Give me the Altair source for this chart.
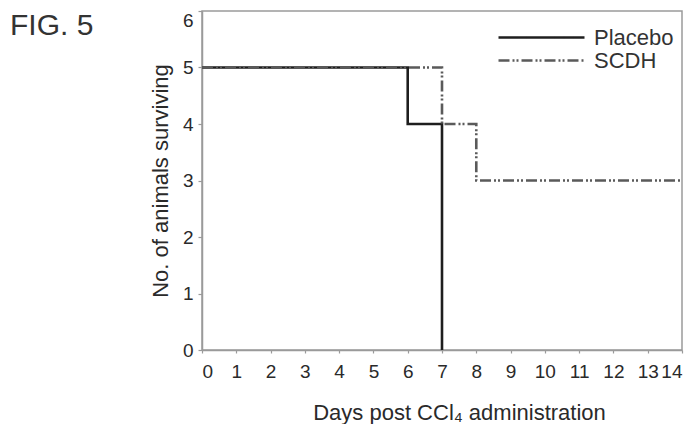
import altair as alt
import pandas as pd

# Survival step data
placebo_days = [0, 6, 7]
placebo_alive = [5, 4, 0]
scdh_days = [0, 7, 8, 14]
scdh_alive = [5, 4, 3, 3]

groups = ["Placebo", "SCDH"]
x_ticks = list(range(0, 15))
y_ticks = list(range(0, 7))

rows = []
for d, a in zip(placebo_days, placebo_alive):
    rows.append({"group": "Placebo", "day": d, "alive": a})
for d, a in zip(scdh_days, scdh_alive):
    rows.append({"group": "SCDH", "day": d, "alive": a})
df = pd.DataFrame(rows)

FONT = "Liberation Sans"
AXIS_GRAY = "#9a9a9a"
TOP = 3

lines = alt.Chart(df).mark_line(interpolate="step-after", strokeWidth=2.6).encode(
    x=alt.X("day:Q",
            scale=alt.Scale(domain=[0, 14], nice=False, zero=False),
            axis=alt.Axis(values=x_ticks, title="Days post CCl\u2084 administration",
                          grid=False, tickSize=3, labelPadding=9, titlePadding=21,
                          titleX=257, format="d")),
    y=alt.Y("alive:Q",
            scale=alt.Scale(domain=[0, 6], nice=False),
            axis=alt.Axis(values=y_ticks, title="No. of animals surviving",
                          grid=False, tickSize=4, labelPadding=5, titlePadding=10,
                          labelOffset={"condition": {"test": "datum.value == 6", "value": 9},
                                       "value": 0},
                          format="d")),
    color=alt.Color("group:N",
                    scale=alt.Scale(domain=groups, range=["#1e1e1e", "#5a5a5a"]),
                    legend=alt.Legend(title=None, orient="none", legendX=295, legendY=19 - TOP,
                                      symbolType="stroke", symbolSize=7396,
                                      symbolStrokeWidth=2.6, labelOffset=8,
                                      clipHeight=21,
                                      labelFontSize=22, labelFont=FONT,
                                      labelColor="#333333", rowPadding=0, padding=0)),
    strokeDash=alt.StrokeDash("group:N",
                              scale=alt.Scale(domain=groups, range=[[1, 0], [11, 3, 2, 2, 2, 3]]),
                              legend=None),
)

fig_label = alt.Chart(pd.DataFrame({"t": ["FIG. 5"]})).mark_text(
    align="left", baseline="alphabetic", fontSize=30, font=FONT, color="#333333"
).encode(text="t:N", x=alt.value(-192), y=alt.value(27 - TOP))

chart = alt.layer(lines, fig_label).properties(
    width=480, height=342 - TOP,
    autosize=alt.AutoSizeParams(type="none"),
    padding={"left": 194, "top": TOP, "right": 5, "bottom": 74},
).configure_view(
    stroke=AXIS_GRAY, strokeWidth=1.5
).configure_axis(
    domainColor=AXIS_GRAY, domainWidth=1.5, tickColor=AXIS_GRAY, tickWidth=1.2,
    labelFont=FONT, labelFontSize=19, labelColor="#2a2a2a",
    titleFont=FONT, titleFontSize=22, titleFontWeight="normal", titleColor="#2a2a2a",
)

chart.save("out.html", embed_options={"renderer": "svg", "actions": False})
